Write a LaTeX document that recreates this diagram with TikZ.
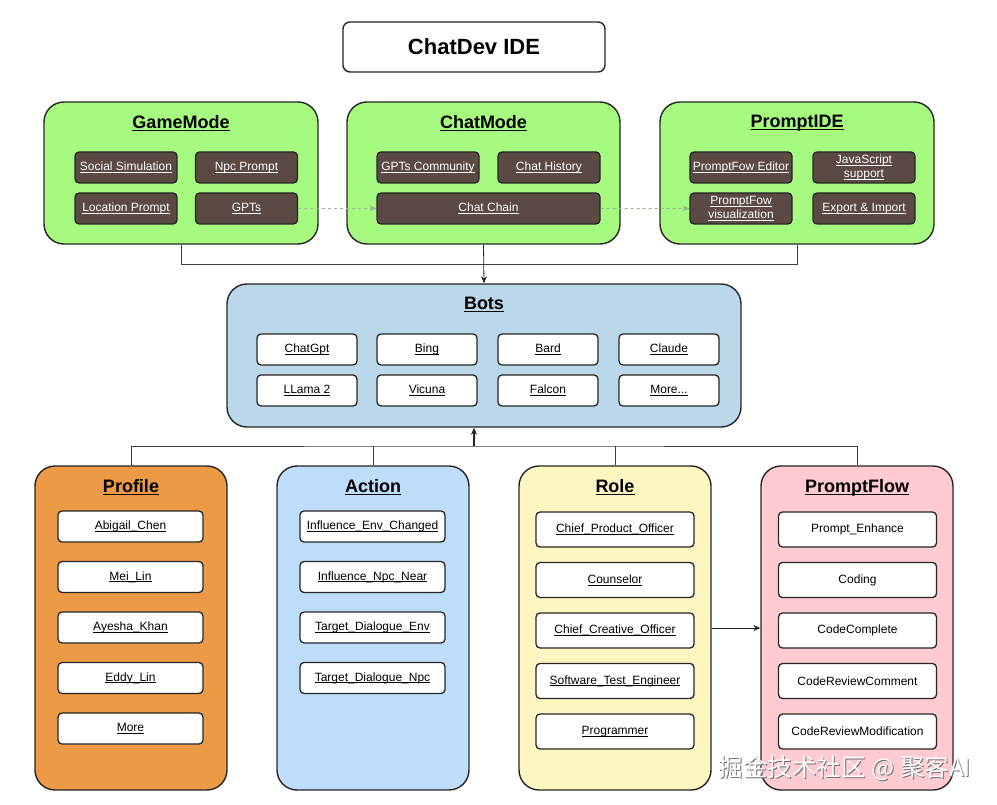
\documentclass[tikz,border=0pt]{standalone}
\usepackage{fontspec}
\setmainfont{Liberation Sans}
\newfontfamily\cjk{Noto Sans CJK SC}
\usetikzlibrary{arrows.meta, positioning}
\definecolor{modegreen}{HTML}{A6FA7F}
\definecolor{itembrown}{HTML}{5B4943}
\definecolor{botsblue}{HTML}{BAD8EA}
\definecolor{profileorange}{HTML}{EC9A45}
\definecolor{actionblue}{HTML}{BDDDFA}
\definecolor{roleyellow}{HTML}{FDF6C0}
\definecolor{flowpink}{HTML}{FFCAD0}
\definecolor{dashgreen}{HTML}{9CB58E}
\tikzset{
  >={Stealth[length=7pt, width=6pt]},
  titlebox/.style={rectangle, rounded corners=7pt, draw=black!85, line width=1.4pt, fill=white,
                   minimum width=262pt, minimum height=50pt, font=\fontsize{22}{24}\selectfont\bfseries},
  panel/.style={rectangle, rounded corners=20pt, draw=black!85, line width=1.4pt},
  ptitle/.style={inner sep=0pt, font=\fontsize{18}{20}\selectfont\bfseries},
  item/.style={rectangle, rounded corners=4pt, draw=black!85, line width=1.3pt, align=center,
               inner sep=1pt, font=\fontsize{12}{14}\selectfont},
  itemb/.style={item, fill=itembrown, text=white, minimum width=102pt, minimum height=31pt},
  itemw/.style={item, fill=white, minimum width=100pt, minimum height=31pt},
  itemp/.style={item, fill=white, minimum width=145pt, minimum height=31pt},
  itemr/.style={item, fill=white, minimum width=158pt, minimum height=35pt},
  bus/.style={draw=black!75, line width=0.8pt},
  flow/.style={->, draw=black!85, line width=0.8pt},
  flowb/.style={->, draw=black!85, line width=2pt},
  flowd/.style={->, dashed, draw=dashgreen, line width=0.8pt},
  wmark/.style={font=\cjk\fontsize{24.5}{26}\selectfont},
}
\newcommand{\ulin}[1]{\leavevmode\setbox0\hbox{#1}\rlap{\rule[-0.17em]{\wd0}{0.06em}}\box0}

\begin{document}
\begin{tikzpicture}[x=1pt, y=-1pt]
  \useasboundingbox (0,0) rectangle (997,805);

  \node[titlebox] (chatdev) at (474,47) {ChatDev IDE};

  % top row of modes
  \node[panel, fill=modegreen, minimum width=274pt, minimum height=142pt] (game) at (181,173) {};
  \node[ptitle, below=13.5pt of game.north] (gamet) {\ulin{GameMode}};
  \node[itemb] (social) at (126,167.5) {\ulin{Social Simulation}};
  \node[itemb, right=17.2pt of social] (npc) {\ulin{Npc Prompt}};
  \node[itemb, below=8.7pt of social] (location) {\ulin{Location Prompt}};
  \node[itemb, below=8.7pt of npc] (gpts) {\ulin{GPTs}};

  \node[panel, fill=modegreen, minimum width=273pt, minimum height=142pt] (chat) at (483.5,173) {};
  \node[ptitle, below=13.5pt of chat.north] (chatt) {\ulin{ChatMode}};
  \node[itemb] (community) at (428,167.5) {\ulin{GPTs Community}};
  \node[itemb, right=17.7pt of community] (history) {\ulin{Chat History}};
  \node[itemb, minimum width=223pt] (chain) at (488.5,208.5) {\ulin{Chat Chain}};

  \node[panel, fill=modegreen, minimum width=274pt, minimum height=142pt] (promptide) at (797,173) {};
  \node[ptitle, below=13.5pt of promptide.north] (promptidet) {\ulin{PromptIDE}};
  \node[itemb] (editor) at (741,167.5) {\ulin{PromptFow Editor}};
  \node[itemb, right=19.7pt of editor] (jscript) {\ulin{JavaScript}\\\ulin{support}};
  \node[itemb, below=8.7pt of editor] (pfvis) {\ulin{PromptFow}\\\ulin{visualization}};
  \node[itemb, below=8.7pt of jscript] (export) {\ulin{Export \& Import}};

  \draw[flowd] (gpts) -- (chain);
  \draw[flowd] (chain) -- (pfvis);

  % bots
  \node[panel, fill=botsblue, minimum width=514pt, minimum height=143pt] (bots) at (484,355.5) {};
  \node[ptitle, below=13.5pt of bots.north] (botst) {\ulin{Bots}};
  \node[itemw] (chatgpt) at (307,349.5) {\ulin{ChatGpt}};
  \node[itemw, right=18.7pt of chatgpt] (bing) {\ulin{Bing}};
  \node[itemw, right=19.7pt of bing] (bard) {\ulin{Bard}};
  \node[itemw, right=19.7pt of bard] (claude) {\ulin{Claude}};
  \node[itemw, below=8.7pt of chatgpt] (llama) {\ulin{LLama 2}};
  \node[itemw, below=8.7pt of bing] (vicuna) {\ulin{Vicuna}};
  \node[itemw, below=8.7pt of bard] (falcon) {\ulin{Falcon}};
  \node[itemw, below=8.7pt of claude] (more) {\ulin{More...}};

  \draw[bus] (game.south) -- ++(0,20) -| (promptide.south);
  \draw[flow] (chat.south) -- (bots.north);

  % bottom row
  \node[panel, fill=profileorange, minimum width=192pt, minimum height=324pt] (profile) at (131,628) {};
  \node[ptitle, below=13.5pt of profile.north] (profilet) {\ulin{Profile}};
  \node[itemp] (abigail) at (130.5,526.5) {\ulin{Abigail\_Chen}};
  \node[itemp, below=18.2pt of abigail] (mei) {\ulin{Mei\_Lin}};
  \node[itemp, below=18.2pt of mei] (ayesha) {\ulin{Ayesha\_Khan}};
  \node[itemp, below=18.2pt of ayesha] (eddy) {\ulin{Eddy\_Lin}};
  \node[itemp, below=18.2pt of eddy] (moreprof) {\ulin{More}};

  \node[panel, fill=actionblue, minimum width=192pt, minimum height=324pt] (action) at (373,628) {};
  \node[ptitle, below=13.5pt of action.north] (actiont) {\ulin{Action}};
  \node[itemp] (envchanged) at (372.5,526.5) {\ulin{Influence\_Env\_Changed}};
  \node[itemp, below=18.2pt of envchanged] (npcnear) {\ulin{Influence\_Npc\_Near}};
  \node[itemp, below=18.2pt of npcnear] (dialogenv) {\ulin{Target\_Dialogue\_Env}};
  \node[itemp, below=18.2pt of dialogenv] (dialognpc) {\ulin{Target\_Dialogue\_Npc}};

  \node[panel, fill=roleyellow, minimum width=192pt, minimum height=324pt] (role) at (615,628) {};
  \node[ptitle, below=13.5pt of role.north] (rolet) {\ulin{Role}};
  \node[itemr] (cpo) at (615,529.5) {\ulin{Chief\_Product\_Officer}};
  \node[itemr, below=14.2pt of cpo] (counselor) {\ulin{Counselor}};
  \node[itemr, below=14.2pt of counselor] (cco) {\ulin{Chief\_Creative\_Officer}};
  \node[itemr, below=14.2pt of cco] (tester) {\ulin{Software\_Test\_Engineer}};
  \node[itemr, below=14.2pt of tester] (programmer) {\ulin{Programmer}};

  \node[panel, fill=flowpink, minimum width=192pt, minimum height=324pt] (pflow) at (857,628) {};
  \node[ptitle, below=13.5pt of pflow.north] (pflowt) {\ulin{PromptFlow}};
  \node[itemr] (enhance) at (857.5,529.5) {Prompt\_Enhance};
  \node[itemr, below=14.2pt of enhance] (coding) {Coding};
  \node[itemr, below=14.2pt of coding] (complete) {CodeComplete};
  \node[itemr, below=14.2pt of complete] (comment) {CodeReviewComment};
  \node[itemr, below=14.2pt of comment] (modification) {CodeReviewModification};

  \coordinate (hub) at (474,446);
  \draw[bus] (profile.north) |- (hub) -| (pflow.north);
  \draw[bus] (action.north) -- (action.north |- hub);
  \draw[bus] (role.north) -- (role.north |- hub);
  \draw[flowb] (hub) -- (hub |- bots.south);
  \draw[flow] (role.east) -- (pflow.west);

  \node[wmark, text=black!55] (markshade) at (846,769) {掘金技术社区 @ 聚客AI};
  \node[wmark, text=white] (markfront) at (845,768) {掘金技术社区 @ 聚客AI};
\end{tikzpicture}
\end{document}
